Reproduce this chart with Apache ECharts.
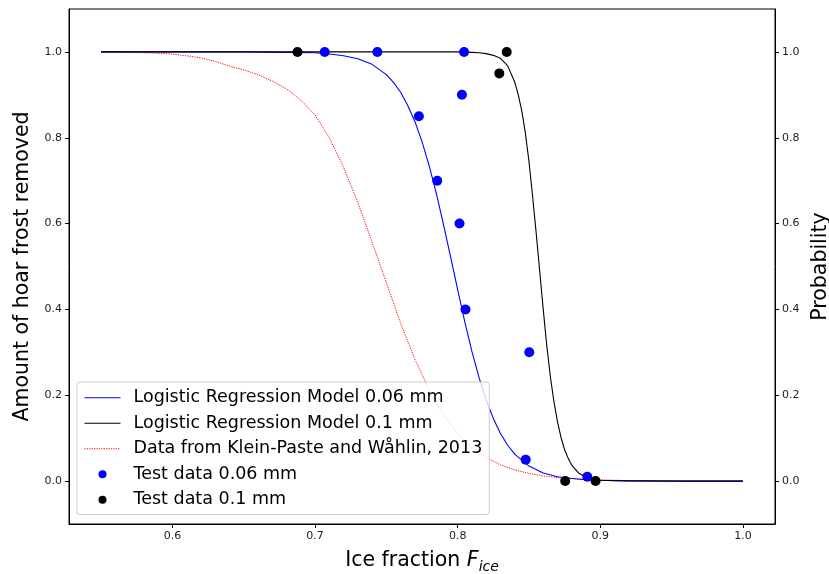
<!DOCTYPE html>
<html>
<head>
<meta charset="utf-8">
<script src="https://cdn.jsdelivr.net/npm/echarts@6/dist/echarts.min.js"></script>
<style>
html,body{margin:0;padding:0;background:#fff;}
#chart{width:829px;height:574px;}
</style>
</head>
<body>
<div id="chart"></div>
<script>
// ---- data ----
const xTicks = [0.6, 0.7, 0.8, 0.9, 1.0];
const yTicks = [0.0, 0.2, 0.4, 0.6, 0.8, 1.0];

const blueCurveX = [0.55,0.60,0.65,0.68,0.70,0.71,0.72,0.73,0.74,0.75,0.755,0.76,0.765,0.77,0.775,0.78,0.785,0.79,0.795,0.80,0.805,0.81,0.815,0.82,0.825,0.83,0.835,0.84,0.85,0.86,0.87,0.88,0.89,0.90,0.92,0.95,1.0];
const blueCurveY = [1.0,1.0,1.0,0.999,0.998,0.995,0.991,0.984,0.971,0.947,0.929,0.906,0.875,0.838,0.791,0.735,0.671,0.599,0.523,0.446,0.371,0.302,0.241,0.189,0.146,0.111,0.084,0.063,0.035,0.019,0.010,0.006,0.003,0.002,0.0005,0.0001,0.0];

const blackCurveX = [0.55,0.70,0.80,0.81,0.815,0.82,0.825,0.83,0.835,0.84,0.8425,0.845,0.8475,0.85,0.8525,0.855,0.8575,0.86,0.8625,0.865,0.8675,0.87,0.8725,0.875,0.8775,0.88,0.885,0.89,0.895,0.90,0.91,0.95,1.0];
const blackCurveY = [1.0,1.0,1.0,0.999,0.998,0.996,0.992,0.985,0.968,0.930,0.900,0.862,0.810,0.745,0.665,0.580,0.490,0.400,0.315,0.243,0.185,0.138,0.101,0.073,0.053,0.037,0.018,0.009,0.004,0.002,0.001,0.0,0.0];

const redCurveX = [0.55,0.56,0.57,0.58,0.59,0.60,0.61,0.62,0.63,0.64,0.65,0.66,0.67,0.68,0.69,0.70,0.71,0.72,0.73,0.74,0.75,0.76,0.77,0.78,0.79,0.80,0.81,0.82,0.83,0.84,0.85,0.86,0.87,0.88,0.89,0.90,0.92,0.94,0.96,1.0];
const redCurveY = [0.9995,0.9993,0.999,0.998,0.997,0.995,0.991,0.986,0.978,0.967,0.958,0.947,0.932,0.914,0.888,0.853,0.800,0.731,0.649,0.557,0.462,0.368,0.284,0.213,0.155,0.111,0.078,0.055,0.038,0.026,0.018,0.012,0.008,0.006,0.004,0.003,0.001,0.0006,0.0003,0.0001];

const test006X = [0.7068,0.7437,0.8045,0.8030,0.7728,0.7857,0.8013,0.8055,0.8502,0.8477,0.8909];
const test006Y = [1.0,1.0,1.0,0.90,0.85,0.70,0.60,0.40,0.30,0.05,0.01];

const test01X = [0.6877,0.8344,0.8292,0.8754,0.8967];
const test01Y = [1.0,1.0,0.95,0.0,0.0];

const names = [
  'Logistic Regression Model 0.06 mm',
  'Logistic Regression Model 0.1 mm',
  'Data from Klein-Paste and Wåhlin, 2013',
  'Test data 0.06 mm',
  'Test data 0.1 mm'
];

// ---- chart ----
const zip = (xs, ys) => xs.map((x, i) => [x, ys[i]]);
const FONT = 'DejaVu Sans';
const chart = echarts.init(document.getElementById('chart'), null, {renderer: 'canvas'});

const yAxisBase = (pos) => ({
  type: 'value', position: pos, min: -0.1, max: 1.1,
  splitLine: {show: false},
  axisLine: {show: true, onZero: false, lineStyle: {color: '#000', width: 1}},
  axisTick: {show: true, customValues: yTicks, length: 4, lineStyle: {color: '#000'}},
  axisLabel: {customValues: yTicks, formatter: v => v.toFixed(1), fontFamily: FONT, fontSize: 11, color: '#222', margin: 7},
  nameLocation: 'middle', nameRotate: 90,
  nameTextStyle: {fontFamily: FONT, fontSize: 20.5, color: '#000'}
});

const option = {
  backgroundColor: '#fff',
  animation: false,
  grid: {left: 69, right: 54, top: 9, bottom: 50, containLabel: false, outerBoundsMode: 'none',
         show: true, borderColor: '#000', borderWidth: 1, backgroundColor: 'transparent'},
  xAxis: {
    type: 'value', min: 0.5275, max: 1.0225,
    splitLine: {show: false},
    axisLine: {show: true, onZero: false, lineStyle: {color: '#000', width: 1}},
    axisTick: {show: true, customValues: xTicks, length: 4, lineStyle: {color: '#000'}},
    axisLabel: {customValues: xTicks, formatter: v => v.toFixed(1), fontFamily: FONT, fontSize: 11, color: '#222', margin: 7},
    name: '{n|Ice fraction }{f|F}{s|ice}',
    nameLocation: 'middle', nameGap: 24,
    nameTextStyle: {
      fontFamily: FONT, fontSize: 20.5, color: '#000',
      rich: {
        n: {fontFamily: FONT, fontSize: 20.5, color: '#000', lineHeight: 26},
        f: {fontFamily: FONT, fontSize: 20.5, color: '#000', fontStyle: 'italic', lineHeight: 26},
        s: {fontFamily: FONT, fontSize: 14, color: '#000', fontStyle: 'italic', lineHeight: 14, verticalAlign: 'bottom'}
      }
    }
  },
  yAxis: [
    Object.assign(yAxisBase('left'), {name: 'Amount of hoar frost removed', nameGap: 35}),
    Object.assign(yAxisBase('right'), {name: 'Probability', nameGap: 33})
  ],
  legend: {
    orient: 'vertical', left: 77, top: 382,
    data: [
      {name: names[0], icon: 'line', itemStyle: {color: '#0000ff', borderColor: '#0000ff', borderWidth: 1}},
      {name: names[1], icon: 'line', itemStyle: {color: '#000000', borderColor: '#000000', borderWidth: 1}},
      {name: names[2], icon: 'line', itemStyle: {color: '#ff0000', borderColor: '#ff0000', borderWidth: 1, borderType: [1.2, 1.2]}},
      {name: names[3], icon: 'circle'},
      {name: names[4], icon: 'circle'}
    ],
    itemWidth: 36, itemHeight: 8, itemGap: 6,
    padding: [6, 7, 5, 7],
    backgroundColor: 'rgba(255,255,255,0.8)',
    borderColor: '#cccccc', borderWidth: 1, borderRadius: 3,
    textStyle: {fontFamily: FONT, fontSize: 17.5, color: '#000', lineHeight: 19.5, padding: [0, 0, 0, 8]}
  },
  series: [
    {name: names[0], type: 'line', data: zip(blueCurveX, blueCurveY), symbol: 'none', lineStyle: {color: '#0000ff', width: 1.1}, itemStyle: {color: '#0000ff'}, z: 2},
    {name: names[1], type: 'line', data: zip(blackCurveX, blackCurveY), symbol: 'none', lineStyle: {color: '#000000', width: 1.1}, itemStyle: {color: '#000000'}, z: 2},
    {name: names[2], type: 'line', data: zip(redCurveX, redCurveY), symbol: 'none', lineStyle: {color: '#ff0000', width: 1, type: [1.2, 1.2]}, itemStyle: {color: '#ff0000'}, z: 1},
    {name: names[3], type: 'scatter', data: zip(test006X, test006Y), symbol: 'circle', symbolSize: 10, itemStyle: {color: '#0000ff', opacity: 1}, z: 3},
    {name: names[4], type: 'scatter', data: zip(test01X, test01Y), symbol: 'circle', symbolSize: 10, itemStyle: {color: '#000000', opacity: 1}, z: 3}
  ]
};
chart.setOption(option);
</script>
</body>
</html>
